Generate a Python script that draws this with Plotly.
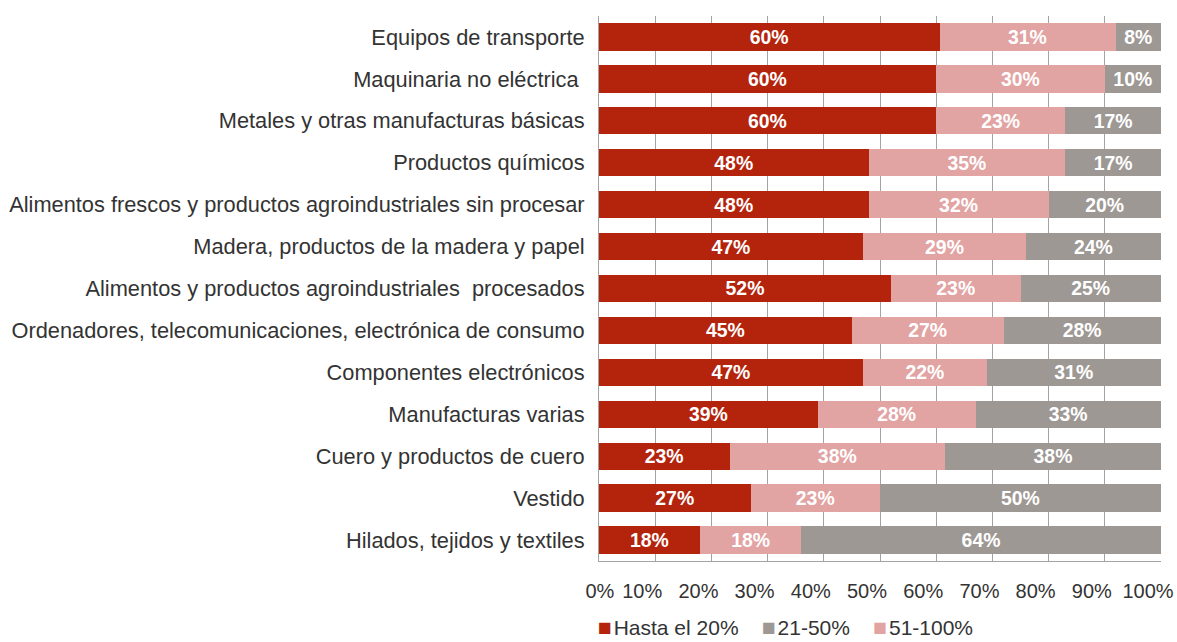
import plotly.graph_objects as go

categories = [
    "Equipos de transporte",
    "Maquinaria no eléctrica ",
    "Metales y otras manufacturas básicas",
    "Productos químicos",
    "Alimentos frescos y productos agroindustriales sin procesar",
    "Madera, productos de la madera y papel",
    "Alimentos y productos agroindustriales  procesados",
    "Ordenadores, telecomunicaciones, electrónica de consumo",
    "Componentes electrónicos",
    "Manufacturas varias",
    "Cuero y productos de cuero",
    "Vestido",
    "Hilados, tejidos y textiles",
]
hasta_20 = [60, 60, 60, 48, 48, 47, 52, 45, 47, 39, 23, 27, 18]
de_51_100 = [31, 30, 23, 35, 32, 29, 23, 27, 22, 28, 38, 23, 18]
de_21_50 = [8, 10, 17, 17, 20, 24, 25, 28, 31, 33, 38, 50, 64]
x_ticks = [0, 10, 20, 30, 40, 50, 60, 70, 80, 90, 100]

FONT = "Liberation Sans, Arial, sans-serif"
TEXT = "#333333"
GRID = "#A3A3A3"
RED = "#B4240D"
PINK = "#E2A3A3"
GREY = "#9E9894"

# stacking order: red, pink, grey; legend order: red, grey, pink
series = [
    ("Hasta el 20%", hasta_20, RED),
    ("51-100%", de_51_100, PINK),
    ("21-50%", de_21_50, GREY),
]
legend_order = [("Hasta el 20%", RED), ("21-50%", GREY), ("51-100%", PINK)]

fig = go.Figure()
for name, vals, color in series:
    fig.add_trace(go.Bar(
        y=categories,
        x=vals,
        name=name,
        orientation="h",
        marker=dict(color=color, line=dict(width=0)),
        text=[f"{v}%" for v in vals],
        textposition="inside",
        insidetextanchor="middle",
        textangle=0,
        textfont=dict(family=FONT, size=21, color="white", weight="bold"),
        showlegend=False,
        hoverinfo="skip",
    ))

# legend line under the axis: coloured squares followed by series names
gap = "&nbsp;" * 4
legend_text = gap.join(
    f"<span style='color:{c};font-size:23px'>■</span>&#8202;{n}" for n, c in legend_order
)
fig.add_annotation(
    text=legend_text,
    xref="paper", yref="paper",
    x=0, y=-0.122,
    xanchor="left", yanchor="middle",
    xshift=-3,
    showarrow=False,
    font=dict(family=FONT, size=21, color=TEXT),
)

# tick labels sit a little left of their gridline; the first one is nudged right
tick_text = [f"{t}%" for t in x_ticks]
tick_text[0] = "&nbsp;" * 5 + tick_text[0]

fig.update_layout(
    barmode="stack",
    barnorm="percent",
    bargap=0.35,
    width=1177,
    height=642,
    margin=dict(l=599, r=16, t=16, b=81),
    paper_bgcolor="white",
    plot_bgcolor="white",
    font=dict(family=FONT, size=21, color=TEXT),
    showlegend=False,
    xaxis=dict(
        range=[0, 100],
        tickvals=x_ticks,
        ticktext=tick_text,
        tickangle=0,
        ticklabelshift=-13,
        automargin=False,
        showgrid=True,
        gridcolor=GRID,
        gridwidth=1,
        zeroline=False,
        showline=True,
        linecolor=GRID,
        linewidth=1,
        ticks="",
        ticklabelstandoff=12,
        ticklabeloverflow="allow",
        tickfont=dict(family=FONT, size=20, color=TEXT),
    ),
    yaxis=dict(
        categoryorder="array",
        categoryarray=categories[::-1],
        automargin=False,
        showline=True,
        linecolor=GRID,
        linewidth=1,
        ticks="",
        ticklabelstandoff=9,
        tickfont=dict(family=FONT, size=21.8, color=TEXT),
        showgrid=False,
    ),
)

fig.write_html("out.html")
